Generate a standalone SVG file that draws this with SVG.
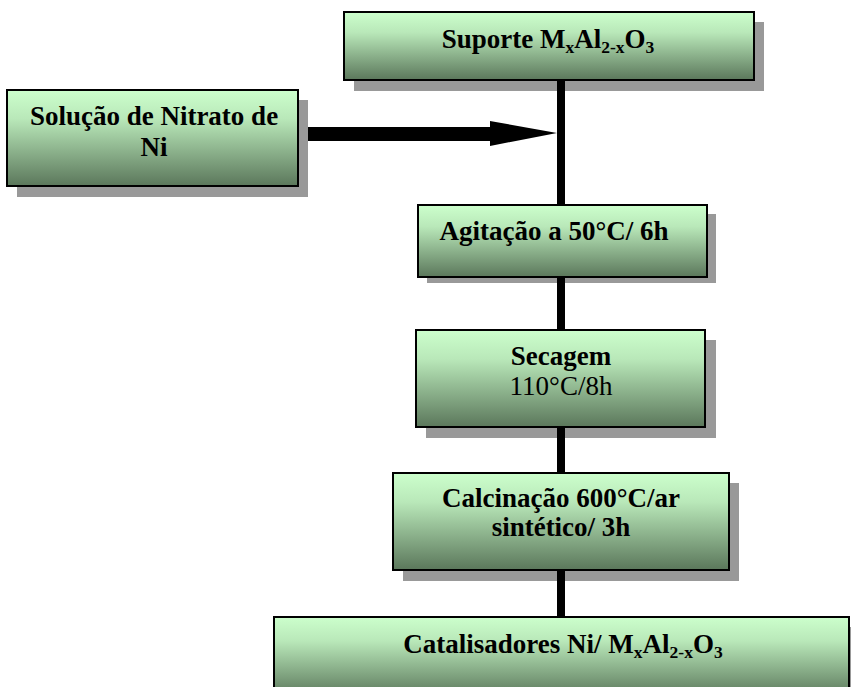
<svg xmlns="http://www.w3.org/2000/svg" width="851" height="687" viewBox="0 0 851 687">
<defs>
<linearGradient id="g" x1="0" y1="0" x2="0" y2="1">
<stop offset="0" stop-color="#ccffcc"/>
<stop offset="0.3" stop-color="#b9e8b9"/>
<stop offset="1" stop-color="#5b775b"/>
</linearGradient>
</defs>
<style>
.sh{fill:#999999}
.bx{fill:url(#g);stroke:#000;stroke-width:2}
.t{font-family:'Liberation Serif','Times New Roman',Times,serif;font-size:27px;fill:#000;text-anchor:middle}
.b{font-weight:bold}
.sub{font-size:17.5px}
.ln{stroke:#000;stroke-width:8;fill:none}
</style>
<rect width="851" height="687" fill="#fff"/>
<g font-family="Liberation Serif, serif">
<g id="suporte">
<rect class="sh" x="354" y="22" width="410" height="69"/>
<rect class="bx" x="344" y="12" width="410" height="68"/>
<text class="t b" x="548" y="48">Suporte M<tspan class="sub" dy="5">x</tspan><tspan dy="-5">Al</tspan><tspan class="sub" dy="5">2-x</tspan><tspan dy="-5">O</tspan><tspan class="sub" dy="5">3</tspan></text>
</g>
<g id="solucao">
<rect class="sh" x="17" y="100" width="291" height="97"/>
<rect class="bx" x="7" y="90" width="291" height="96"/>
<text class="t b" x="154" y="125">Solução de Nitrato de</text>
<text class="t b" x="154" y="156">Ni</text>
</g>
<g id="agitacao">
<rect class="sh" x="427" y="214" width="289" height="69"/>
<rect class="bx" x="418" y="205" width="289" height="72"/>
<text class="t b" x="554" y="240">Agitação a 50°C/ 6h</text>
</g>
<g id="secagem">
<rect class="sh" x="426" y="340" width="290" height="98"/>
<rect class="bx" x="416" y="330" width="289" height="97"/>
<text class="t b" x="561" y="365">Secagem</text>
<text class="t" x="561" y="395">110°C/8h</text>
</g>
<g id="calcinacao">
<rect class="sh" x="403" y="483" width="336" height="98"/>
<rect class="bx" x="393" y="473" width="336" height="97"/>
<text class="t b" x="561" y="507">Calcinação 600°C/ar</text>
<text class="t b" x="561" y="536">sintético/ 3h</text>
</g>
<g id="catalisadores">
<rect class="sh" x="284" y="627" width="575" height="80"/>
<rect class="bx" x="274" y="617" width="575" height="80"/>
<text class="t b" x="563" y="653">Catalisadores Ni/ M<tspan class="sub" dy="5">x</tspan><tspan dy="-5">Al</tspan><tspan class="sub" dy="5">2-x</tspan><tspan dy="-5">O</tspan><tspan class="sub" dy="5">3</tspan></text>
</g>
</g>
<g id="connectors">
<line class="ln" x1="561" y1="81" x2="561" y2="204"/>
<line class="ln" x1="561" y1="278" x2="561" y2="329"/>
<line class="ln" x1="561" y1="428" x2="561" y2="472"/>
<line class="ln" x1="561" y1="571" x2="561" y2="616"/>
<rect x="308" y="127" width="184" height="14" fill="#000"/>
<polygon points="490,121 557,133 490,146" fill="#000"/>
</g>
</svg>
